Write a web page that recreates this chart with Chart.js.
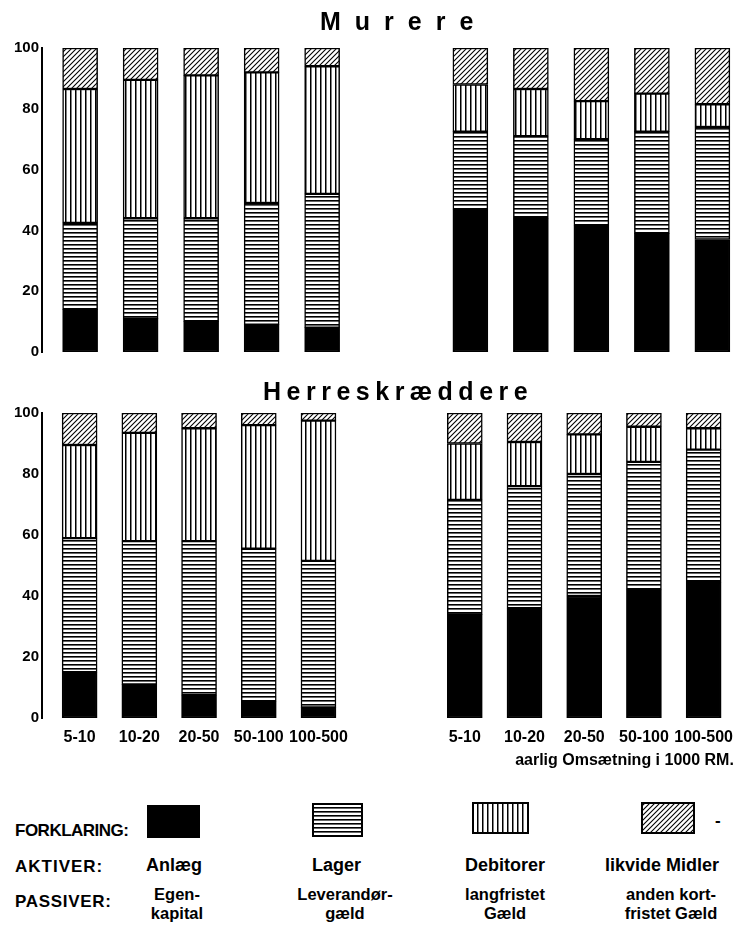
<!DOCTYPE html>
<html>
<head>
<meta charset="utf-8">
<script src="https://cdn.jsdelivr.net/npm/chart.js@4.4.1/dist/chart.umd.min.js"></script>
<style>
html,body{margin:0;padding:0;background:#fff;}
#wrap{position:relative;width:743px;height:930px;overflow:hidden;background:#fff;}
canvas.chart{position:absolute;left:0;}
#c1{top:0;}
#c2{top:372px;}
.lg{position:absolute;font-family:'Liberation Sans',Arial,sans-serif;font-weight:bold;color:#000;white-space:nowrap;}
.sw{position:absolute;}
</style>
</head>
<body>
<div id="wrap">
<canvas id="c1" class="chart" width="743" height="372"></canvas>
<canvas id="c2" class="chart" width="743" height="400"></canvas>

<div class="lg" style="left:15px;top:822px;font-size:17px;line-height:17px;letter-spacing:-0.5px;">FORKLARING:</div>
<div class="lg" style="left:15px;top:858px;font-size:17px;line-height:17px;letter-spacing:1px;">AKTIVER:</div>
<div class="lg" style="left:15px;top:893px;font-size:17px;line-height:17px;letter-spacing:0.7px;">PASSIVER:</div>

<canvas class="sw" id="sw0" width="53" height="33" style="left:147px;top:805px;"></canvas>
<canvas class="sw" id="sw1" width="51" height="34" style="left:312px;top:803px;"></canvas>
<canvas class="sw" id="sw2" width="57" height="32" style="left:472px;top:802px;"></canvas>
<canvas class="sw" id="sw3" width="54" height="32" style="left:641px;top:802px;"></canvas>
<div class="lg" style="left:715px;top:812px;font-size:17px;line-height:17px;">-</div>

<div class="lg" style="left:146px;top:856px;font-size:18px;line-height:18px;">Anlæg</div>
<div class="lg" style="left:312px;top:856px;font-size:18px;line-height:18px;">Lager</div>
<div class="lg" style="left:465px;top:856px;font-size:18px;line-height:18px;">Debitorer</div>
<div class="lg" style="left:605px;top:856px;font-size:18px;line-height:18px;">likvide Midler</div>

<div class="lg" style="left:117px;width:120px;text-align:center;top:885px;font-size:16.5px;line-height:19px;">Egen-<br>kapital</div>
<div class="lg" style="left:285px;width:120px;text-align:center;top:885px;font-size:16.5px;line-height:19px;">Leverandør-<br>gæld</div>
<div class="lg" style="left:445px;width:120px;text-align:center;top:885px;font-size:16.5px;line-height:19px;">langfristet<br>Gæld</div>
<div class="lg" style="left:601px;width:140px;text-align:center;top:885px;font-size:16.5px;line-height:19px;">anden kort-<br>fristet Gæld</div>
</div>

<script>
// ---------- data (percent of total) ----------
const categories = ['5-10', '10-20', '20-50', '50-100', '100-500'];
const yTicks = [0, 20, 40, 60, 80, 100];

// Murere - Aktiver
const murAnlaeg    = [14, 11, 10, 9, 8];
const murLager     = [28.5, 33, 34, 40, 44];
const murDebitorer = [44, 45.5, 47, 43, 42];
const murLikvide   = [13.5, 10.5, 9, 8, 6];
// Murere - Passiver
const murEgenkapital = [47, 44, 41.5, 39, 37];
const murLeverandor  = [25.5, 27, 28.5, 33.5, 37];
const murLangfristet = [15.5, 15.5, 12.5, 12.5, 7.5];
const murAndenKort   = [12, 13.5, 17.5, 15, 18.5];

// Herreskræddere - Aktiver
const herAnlaeg    = [15, 11, 7.5, 5.5, 3.5];
const herLager     = [44, 47, 50.5, 50, 48];
const herDebitorer = [30.5, 35.5, 37, 40.5, 46];
const herLikvide   = [10.5, 6.5, 5, 4, 2.5];
// Herreskræddere - Passiver
const herEgenkapital = [34, 36, 40, 42, 44.5];
const herLeverandor  = [37.5, 40, 40, 42, 43.5];
const herLangfristet = [18.5, 14.5, 13, 11.5, 7];
const herAndenKort   = [10, 9.5, 7, 4.5, 5];

const seriesNames = ['Anlæg / Egenkapital', 'Lager / Leverandørgæld', 'Debitorer / langfristet Gæld', 'likvide Midler / anden kortfristet Gæld'];
const xTitle = 'aarlig Omsætning i 1000 RM.';

// ---------- layout helpers ----------
const RIGHT_START = 6.45;
const X_MIN = -0.63, X_MAX = 10.956;
const tickPositions = categories.map((c, i) => i).concat(categories.map((c, i) => RIGHT_START + i));
const tickLabels = categories.concat(categories);

// ---------- patterns ----------
function makePattern(kind) {
  const c = document.createElement('canvas');
  const g = c.getContext('2d');
  if (kind === 'h') {
    c.width = 4; c.height = 4;
    g.fillStyle = '#fff'; g.fillRect(0, 0, 4, 4);
    g.fillStyle = '#000'; g.fillRect(0, 0, 4, 1.6);
  } else if (kind === 'v') {
    c.width = 5; c.height = 5;
    g.fillStyle = '#fff'; g.fillRect(0, 0, 5, 5);
    g.fillStyle = '#000'; g.fillRect(0, 0, 1.5, 5);
  } else {
    c.width = 5; c.height = 5;
    g.fillStyle = '#fff'; g.fillRect(0, 0, 5, 5);
    g.strokeStyle = '#000'; g.lineWidth = 1.1;
    g.beginPath();
    g.moveTo(0, 5); g.lineTo(5, 0);
    g.moveTo(-1, 1); g.lineTo(1, -1);
    g.moveTo(4, 6); g.lineTo(6, 4);
    g.stroke();
  }
  return g.createPattern(c, 'repeat');
}
const fills = ['#000', makePattern('h'), makePattern('v'), makePattern('d')];

function pts(aktiv, passiv) {
  return aktiv.map((v, i) => ({x: i, y: v}))
    .concat(passiv.map((v, i) => ({x: RIGHT_START + i, y: v})));
}
function makeDatasets(a, p) {
  return a.map((arr, k) => ({
    label: seriesNames[k],
    data: pts(arr, p[k]),
    backgroundColor: fills[k],
    borderColor: '#000',
    borderWidth: 1.5,
    borderSkipped: false,
    barThickness: 35
  }));
}

const titlePlugin = {
  id: 'panelTitle',
  afterDraw(chart, args, opts) {
    const ctx = chart.ctx;
    ctx.save();
    ctx.font = opts.font;
    ctx.fillStyle = '#000';
    ctx.textBaseline = 'middle';
    ctx.textAlign = 'left';
    if ('letterSpacing' in ctx) {
      ctx.letterSpacing = opts.spacing + 'px';
      ctx.fillText(opts.text, opts.x, opts.y);
    } else {
      let x = opts.x;
      for (const ch of opts.text) { ctx.fillText(ch, x, opts.y); x += ctx.measureText(ch).width + opts.spacing; }
    }
    ctx.restore();
  }
};

const tickFamily = "'Liberation Sans', Arial, sans-serif";

function makeChart(id, title, a, p, cfg) {
  return new Chart(document.getElementById(id), {
    type: 'bar',
    data: {datasets: makeDatasets(a, p)},
    options: {
      responsive: false,
      animation: false,
      devicePixelRatio: 1,
      layout: {padding: {top: cfg.padTop, bottom: 0, left: 0, right: 0}},
      plugins: {
        legend: {display: false},
        tooltip: {enabled: false},
        panelTitle: {text: title, x: cfg.titleX, y: cfg.titleY, spacing: cfg.spacing, font: "bold 25px 'Liberation Sans', Arial, sans-serif"}
      },
      scales: {
        x: {
          type: 'linear', stacked: true, min: X_MIN, max: X_MAX, offset: false,
          grid: {display: false, drawTicks: false, offset: false},
          border: {display: false},
          afterBuildTicks: s => { s.ticks = tickPositions.map(v => ({value: v})); },
          afterFit: s => { s.height = cfg.xHeight; },
          ticks: {
            display: cfg.showX, autoSkip: false, maxRotation: 0, minRotation: 0, padding: 10,
            color: '#000', font: {family: tickFamily, weight: 'bold', size: 16},
            callback: (v, i) => tickLabels[i]
          },
          title: {
            display: cfg.showX, text: xTitle, align: 'end', color: '#000',
            padding: {top: 0, bottom: 2},
            font: {family: tickFamily, weight: 'bold', size: 16}
          }
        },
        y: {
          stacked: true, min: 0, max: 100,
          afterFit: s => { s.width = 42; },
          afterBuildTicks: s => { s.ticks = yTicks.map(v => ({value: v})); },
          grid: {display: false, drawTicks: false},
          border: {display: true, color: '#000', width: 2},
          ticks: {padding: 3, color: '#000', font: {family: tickFamily, weight: 'bold', size: 15}}
        }
      }
    },
    plugins: [titlePlugin]
  });
}

makeChart('c1', 'Murere',
  [murAnlaeg, murLager, murDebitorer, murLikvide],
  [murEgenkapital, murLeverandor, murLangfristet, murAndenKort],
  {padTop: 48, xHeight: 20, showX: false, titleX: 320, titleY: 23, spacing: 14});

makeChart('c2', 'Herreskræddere',
  [herAnlaeg, herLager, herDebitorer, herLikvide],
  [herEgenkapital, herLeverandor, herLangfristet, herAndenKort],
  {padTop: 41, xHeight: 54, showX: true, titleX: 263, titleY: 21, spacing: 5.5});

// legend swatches
['sw0', 'sw1', 'sw2', 'sw3'].forEach((id, k) => {
  const c = document.getElementById(id);
  const g = c.getContext('2d');
  g.fillStyle = fills[k];
  g.fillRect(0, 0, c.width, c.height);
  g.strokeStyle = '#000'; g.lineWidth = 2;
  g.strokeRect(1, 1, c.width - 2, c.height - 2);
});
</script>
</body>
</html>
